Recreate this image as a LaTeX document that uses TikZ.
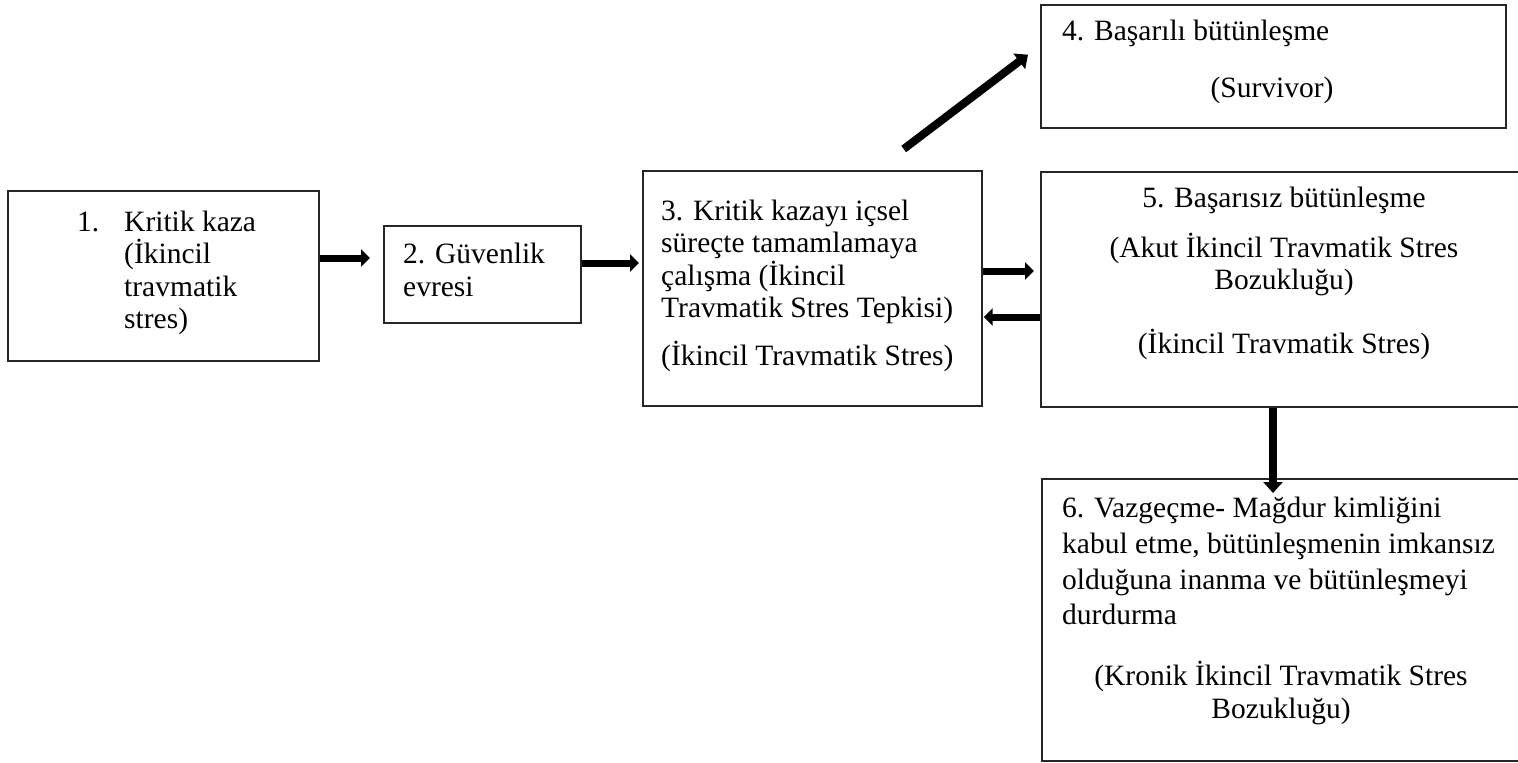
\documentclass[tikz,border=0pt]{standalone}
\usepackage{fontspec}
\setmainfont{Liberation Serif}
\usetikzlibrary{arrows.meta,calc}
\begin{document}
\begin{tikzpicture}[x=1pt,y=-1pt,
  box/.style={draw=black!85,line width=1.7pt,rectangle,inner sep=0pt,anchor=north west},
  txt/.style={font=\fontsize{29.5}{32.5}\selectfont,inner sep=0pt,anchor=base west},
  ctxt/.style={font=\fontsize{29.5}{32.5}\selectfont,inner sep=0pt,anchor=base},
  arr/.style={line width=7pt,-{Triangle[length=9pt,width=17pt]}},
  darr/.style={line width=8pt,-{Triangle[length=11pt,width=19pt]}}]
\useasboundingbox (0,0) rectangle (1518,763);
\clip (0,0) rectangle (1518,763);
% boxes
\node[box,minimum width=311pt,minimum height=170pt] (b1) at (7,190) {};
\node[box,minimum width=197pt,minimum height=97pt] (b2) at (383,225) {};
\node[box,minimum width=339pt,minimum height=235pt] (b3) at (642,170) {};
\node[box,minimum width=465pt,minimum height=123pt] (b4) at (1040,4) {};
\node[box,minimum width=500pt,minimum height=235pt] (b5) at (1040,171) {};
\node[box,minimum width=500pt,minimum height=282pt] (b6) at (1041,478) {};
% box 1 text
\node[txt] (t1n) at (77,231) {1.};
\node[txt] (t1a) at (124,231) {Kritik kaza};
\node[txt] (t1b) at (124,263.5) {(İkincil};
\node[txt] (t1c) at (124,296) {travmatik};
\node[txt] (t1d) at (124,328.5) {stres)};
% box 2 text
\node[txt] (t2a) at (403,263) {2. Güvenlik};
\node[txt] (t2b) at (403,296) {evresi};
% box 3 text
\node[txt] (t3a) at (661,220) {3. Kritik kazayı içsel};
\node[txt] (t3b) at (661,252.5) {süreçte tamamlamaya};
\node[txt] (t3c) at (661,285) {çalışma (İkincil};
\node[txt] (t3d) at (661,317.5) {Travmatik Stres Tepkisi)};
\node[txt] (t3e) at (661,365) {(İkincil Travmatik Stres)};
% box 4 text
\node[txt] (t4a) at (1062,40) {4. Başarılı bütünleşme};
\node[ctxt] (t4b) at (1272,97) {(Survivor)};
% box 5 text
\node[ctxt] (t5a) at (1284,207) {5. Başarısız bütünleşme};
\node[ctxt] (t5b) at (1284,257) {(Akut İkincil Travmatik Stres};
\node[ctxt] (t5c) at (1284,289) {Bozukluğu)};
\node[ctxt] (t5d) at (1284,353) {(İkincil Travmatik Stres)};
% box 6 text
\node[txt] (t6a) at (1062,517) {6. Vazgeçme- Mağdur kimliğini};
\node[txt] (t6b) at (1062,553) {kabul etme, bütünleşmenin imkansız};
\node[txt] (t6c) at (1062,589) {olduğuna inanma ve bütünleşmeyi};
\node[txt] (t6d) at (1062,624) {durdurma};
\node[ctxt] (t6e) at (1281,685) {(Kronik İkincil Travmatik Stres};
\node[ctxt] (t6f) at (1281,718) {Bozukluğu)};
% connectors
\draw[arr] (b1.east |- 0,258) -- ([xshift=-13pt]b2.west |- 0,258);
\draw[arr] (b2.east |- 0,263) -- ([xshift=-3pt]b3.west |- 0,263);
\draw[arr] (b3.east |- 0,271) -- ([xshift=-6pt]b5.west |- 0,271);
\draw[arr] (b5.west |- 0,317) -- ([xshift=1pt]b3.east |- 0,317);
\draw[darr] ($(b3.north east)+(-79,-21)$) -- ($(b4.south west)+(-12,-74)$);
\draw[darr] (b5.south -| 1273,0) -- ([yshift=-15pt]b6.north -| 1273,0);
\end{tikzpicture}
\end{document}
